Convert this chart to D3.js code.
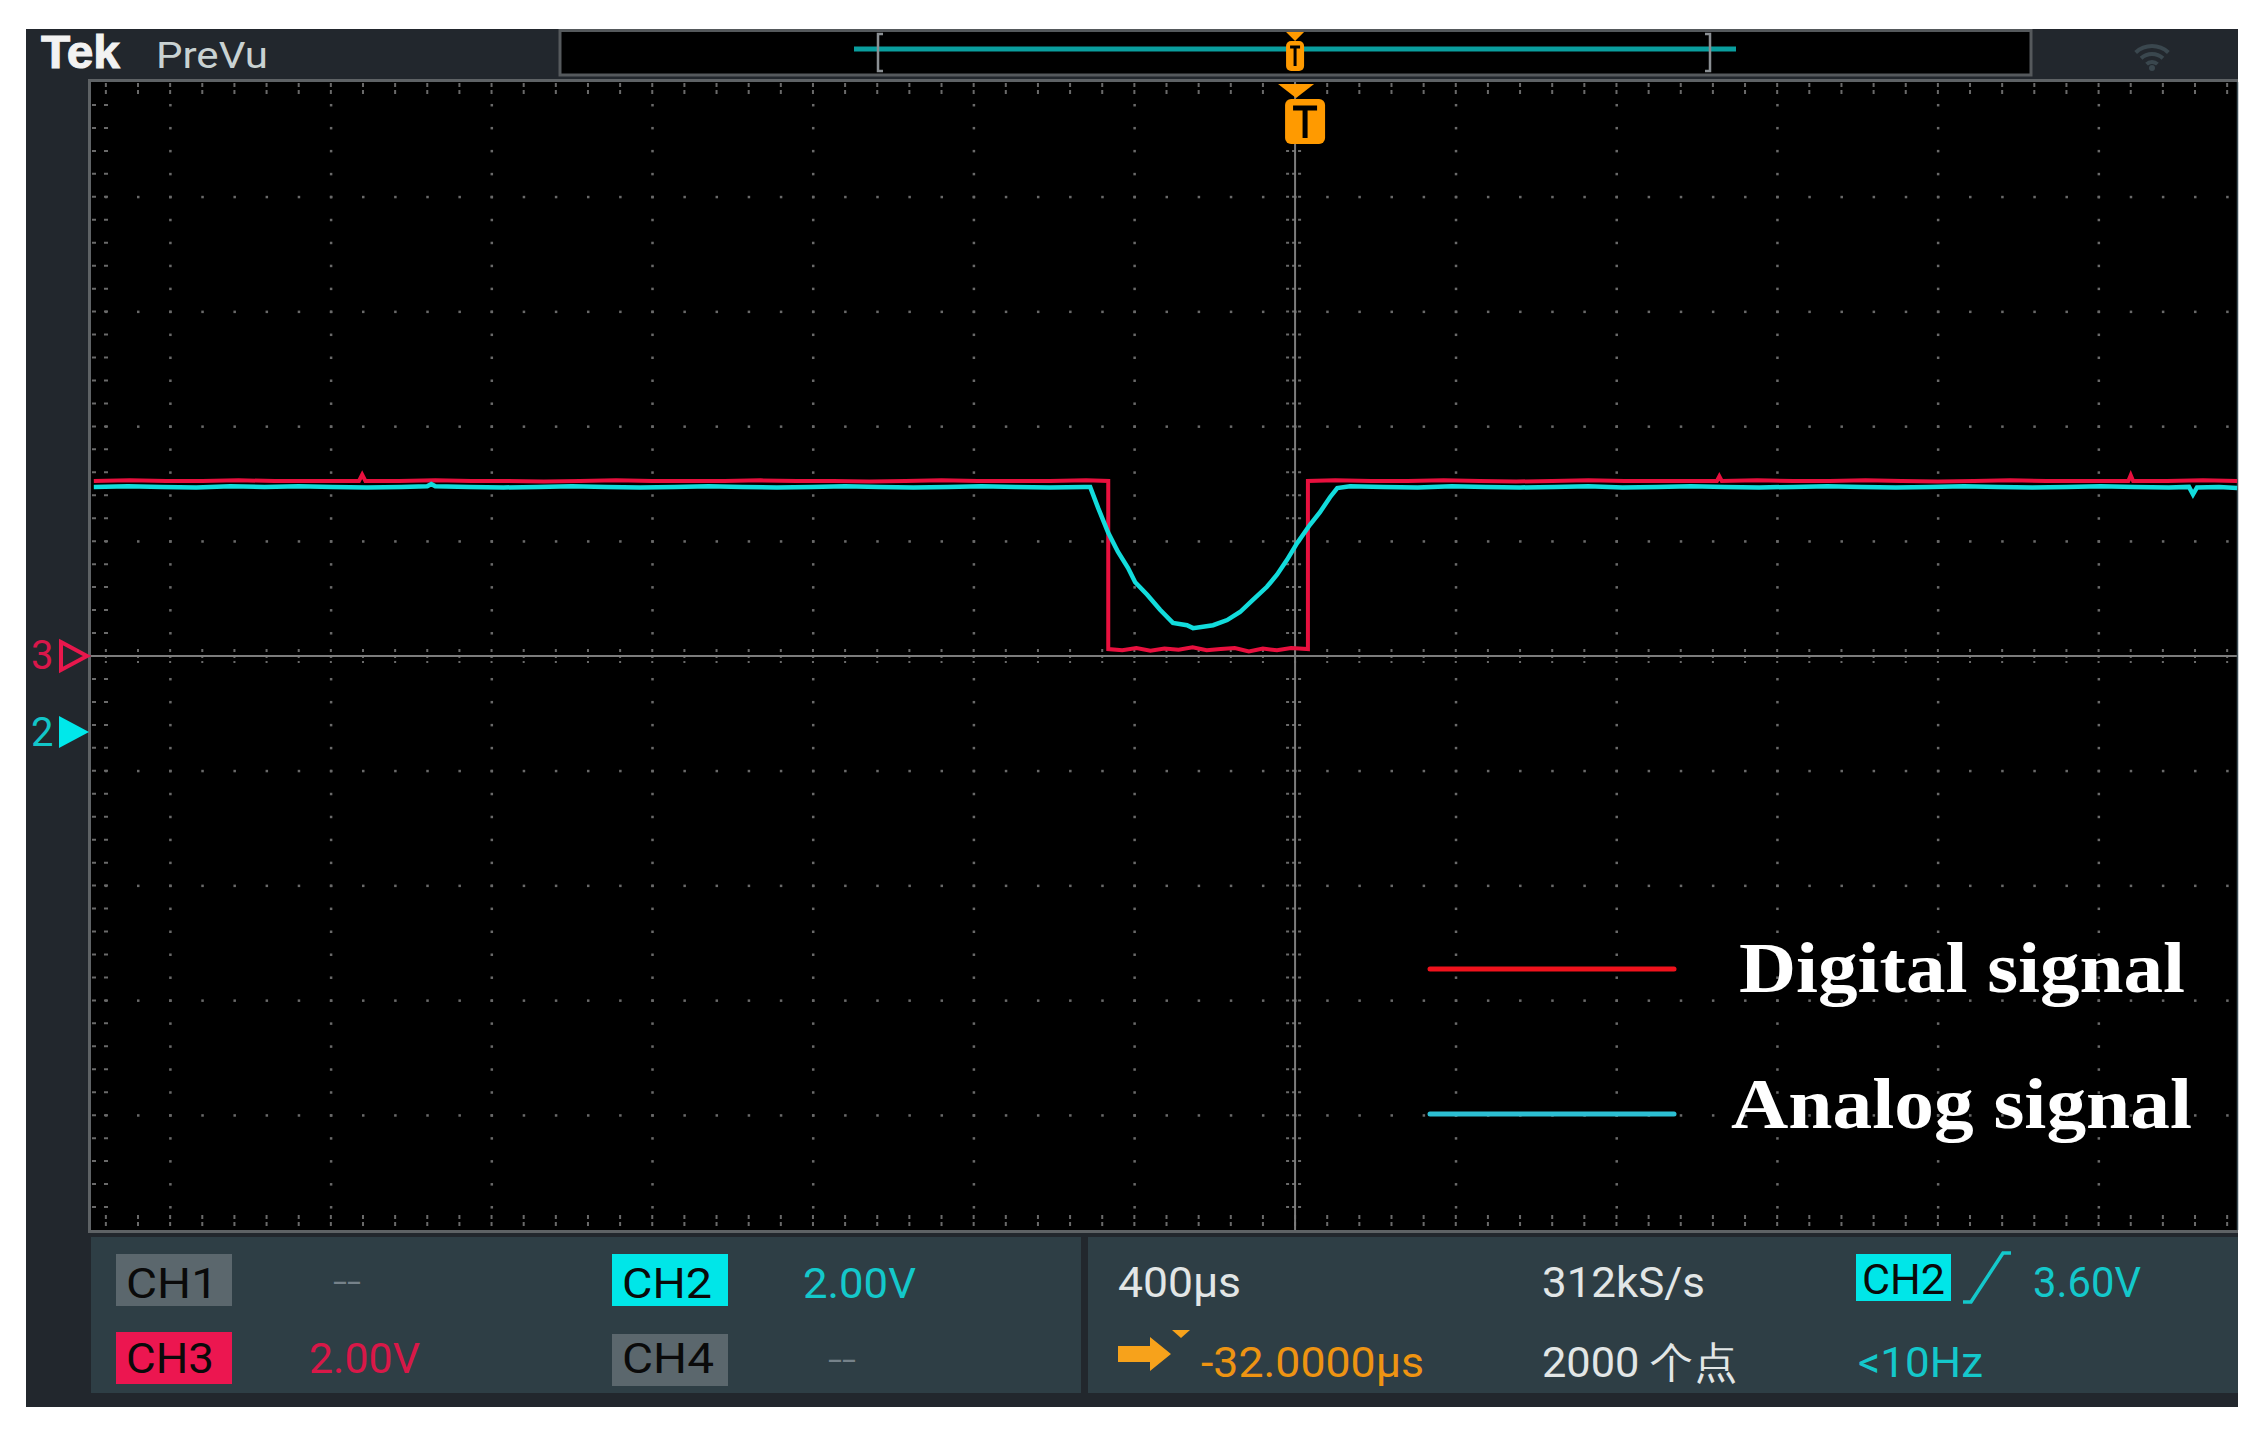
<!DOCTYPE html>
<html><head><meta charset="utf-8">
<script src="https://cdn.jsdelivr.net/npm/d3@7"></script>
<style>body{margin:0;background:#fff}svg{display:block}</style>
</head><body><svg id="c" width="2264" height="1433"></svg>
<script>
// ---------------- data ----------------
// analog signal (CH2), time in µs relative to centre line, volts
const analogTimes = [-2990,-2905,-2820,-2735,-2650,-2565,-2480,-2395,-2310,-2225,-2160,-2150,-2140,-2055,-1970,-1885,-1800,-1715,-1630,-1545,-1460,-1375,-1290,-1205,-1120,-1035,-950,-865,-780,-695,-610,-525,
  -510,-490,-465,-441,-416,-398,-368,-336,-304,-269,-254,-204,-169,-137,-105,-70,-45,-20,5,37,62,87,105,137,
  220,305,390,475,560,645,730,815,900,985,1070,1155,1240,1325,1410,1495,1580,1665,1750,1835,1920,2005,2090,2175,2225,2235,2245,2300,2345];
const analogVolts = [4.27,4.28,4.27,4.26,4.28,4.27,4.28,4.27,4.26,4.27,4.28,4.32,4.28,4.27,4.26,4.27,4.28,4.27,4.26,4.27,4.28,4.27,4.26,4.27,4.28,4.27,4.26,4.27,4.28,4.27,4.26,4.27,
  4.27,3.90,3.47,3.14,2.86,2.61,2.39,2.13,1.90,1.86,1.81,1.86,1.95,2.09,2.30,2.53,2.74,3.00,3.29,3.61,3.83,4.09,4.25,4.28,
  4.27,4.26,4.28,4.27,4.26,4.27,4.28,4.26,4.27,4.28,4.27,4.26,4.27,4.28,4.27,4.26,4.27,4.28,4.27,4.26,4.27,4.28,4.27,4.26,4.27,4.14,4.26,4.27,4.25];
// digital signal (CH3)
const digitalTimes = [-2990,-2900,-2810,-2720,-2630,-2540,-2450,-2330,-2322,-2314,-2230,-2140,-2050,-1960,-1870,-1780,-1690,-1600,-1510,-1420,-1330,-1240,-1150,-1060,-970,-880,-790,-700,-610,-520,-465,
  -465,-430,-395,-360,-325,-290,-255,-220,-185,-150,-115,-80,-45,-10,32,
  32,100,190,280,370,460,550,640,730,820,910,1000,1050,1056,1062,1150,1240,1330,1420,1510,1600,1690,1780,1870,1960,2074,2080,2086,2170,2260,2345];
const digitalVolts = [3.05,3.06,3.05,3.05,3.06,3.05,3.05,3.05,3.16,3.05,3.05,3.06,3.05,3.05,3.04,3.05,3.06,3.05,3.05,3.05,3.06,3.05,3.05,3.04,3.05,3.06,3.05,3.05,3.05,3.06,3.05,
  0.12,0.10,0.14,0.09,0.13,0.11,0.15,0.10,0.12,0.14,0.08,0.13,0.10,0.14,0.12,
  3.05,3.06,3.05,3.05,3.06,3.05,3.04,3.05,3.06,3.05,3.05,3.05,3.05,3.13,3.05,3.06,3.05,3.05,3.06,3.05,3.04,3.05,3.06,3.05,3.05,3.05,3.15,3.05,3.05,3.06,3.05];
const timePerDivUs = 400;
const voltsPerDiv = 2;
const triggerTimeUs = 0;
const legendLabels = ["Digital signal", "Analog signal"];
const chanLabels = ["CH1", "CH2", "CH3", "CH4"];
const chanScales = ["--", "2.00V", "2.00V", "--"];
const horizLabels = ["400µs", "312kS/s", "3.60V", "-32.0000µs", "2000 个点", "<10Hz"];

// ---------------- setup ----------------
const svg = d3.select("#c");
const W = 2264, H = 1433;
const G = {l: 91, r: 2238, t: 82, b: 1230};
const x = d3.scaleLinear().domain([-2997, 2347]).range([G.l, G.r]);
const yDiv = d3.scaleLinear().domain([-5, 5]).range([G.b, G.t]);
const ch3Offset = 0, ch2Offset = -0.662;

svg.append("rect").attr("width", W).attr("height", H).attr("fill", "#fff");
svg.append("rect").attr("x", 26).attr("y", 29).attr("width", 2212).attr("height", 1378).attr("fill", "#22272d");

// top bar
const UI = "'Liberation Sans Narrow','Roboto','Liberation Sans',sans-serif";
svg.append("text").attr("x", 41).attr("y", 68).text("Tek")
  .attr("font-family", "'Liberation Sans',Arial,sans-serif").attr("font-weight", "bold")
  .attr("font-size", 46).attr("fill", "#f2f2f2").attr("stroke", "#f2f2f2").attr("stroke-width", 1)
  .attr("textLength", 79).attr("lengthAdjust", "spacingAndGlyphs");
svg.append("text").attr("x", 156).attr("y", 68).text("PreVu")
  .attr("font-family", UI).attr("font-size", 37).attr("fill", "#c9d2d2")
  .attr("textLength", 112).attr("lengthAdjust", "spacingAndGlyphs");

svg.append("rect").attr("x", 560).attr("y", 30.5).attr("width", 1471).attr("height", 44.5)
  .attr("fill", "#000").attr("stroke", "#55595c").attr("stroke-width", 3);
// preview record line and brackets
svg.append("line").attr("x1", 854).attr("x2", 1736).attr("y1", 49).attr("y2", 49)
  .attr("stroke", "#0a9e9e").attr("stroke-width", 5);
[[878, 1], [1710, -1]].forEach(([bx, d]) => {
  svg.append("path").attr("d", `M${bx + 5 * d},34 L${bx},34 L${bx},71 L${bx + 5 * d},71`)
    .attr("fill", "none").attr("stroke", "#8a8f93").attr("stroke-width", 2.5);
});
// small trigger marker in preview
const tx = x(triggerTimeUs);
svg.append("path").attr("d", `M${tx - 9},32 L${tx + 9},32 L${tx},41 Z`).attr("fill", "#ff9a00");
svg.append("rect").attr("x", tx - 9).attr("y", 41).attr("width", 18).attr("height", 30).attr("rx", 5).attr("fill", "#ff9a00");
svg.append("path").attr("d", `M${tx - 5},47 L${tx + 5},47 M${tx},47 L${tx},66`).attr("stroke", "#000").attr("stroke-width", 3);

// wifi icon
const wcx = 2152, wcy = 70;
[26, 18, 10].forEach(r => {
  svg.append("path").attr("transform", `translate(${wcx},${wcy})`)
    .attr("d", d3.arc()({innerRadius: r - 4, outerRadius: r, startAngle: -0.75, endAngle: 0.75}))
    .attr("fill", "#3a474e");
});
svg.append("circle").attr("cx", wcx).attr("cy", wcy - 2).attr("r", 3).attr("fill", "#3a474e");

// graticule
svg.append("rect").attr("x", G.l).attr("y", G.t).attr("width", G.r - G.l).attr("height", G.b - G.t).attr("fill", "#000");
const gridC = "#6a6a6a";
const majorT = d3.range(-2800, 2347, timePerDivUs).filter(t => t !== 0);
const minorT = d3.range(-2960, 2347, timePerDivUs / 5);
const majorD = [-4, -3, -2, -1, 1, 2, 3, 4];
const minorD = d3.range(-24, 25).map(k => k / 5);
const grid = svg.append("g");
majorT.forEach(t => minorD.forEach(d => {
  grid.append("rect").attr("x", x(t) - 1).attr("y", yDiv(d) - 1).attr("width", 2.5).attr("height", 2.5).attr("fill", gridC);
}));
majorD.forEach(d => minorT.forEach(t => {
  grid.append("rect").attr("x", x(t) - 1).attr("y", yDiv(d) - 1).attr("width", 2.5).attr("height", 2.5).attr("fill", gridC);
}));
// edge ticks
minorT.forEach(t => {
  grid.append("line").attr("x1", x(t)).attr("x2", x(t)).attr("y1", G.t + 1).attr("y2", G.t + 15)
    .attr("stroke", gridC).attr("stroke-width", 2).attr("stroke-dasharray", "4,3");
  grid.append("line").attr("x1", x(t)).attr("x2", x(t)).attr("y1", G.b - 15).attr("y2", G.b - 1)
    .attr("stroke", gridC).attr("stroke-width", 2).attr("stroke-dasharray", "4,3");
  grid.append("line").attr("x1", x(t)).attr("x2", x(t)).attr("y1", yDiv(0) - 7).attr("y2", yDiv(0) + 7)
    .attr("stroke", gridC).attr("stroke-width", 2).attr("stroke-dasharray", "3,3");
});
minorD.forEach(d => {
  grid.append("line").attr("x1", G.l + 1).attr("x2", G.l + 20).attr("y1", yDiv(d)).attr("y2", yDiv(d))
    .attr("stroke", gridC).attr("stroke-width", 2).attr("stroke-dasharray", "4,8");
  grid.append("line").attr("x1", x(0) - 9).attr("x2", x(0) + 9).attr("y1", yDiv(d)).attr("y2", yDiv(d))
    .attr("stroke", gridC).attr("stroke-width", 2).attr("stroke-dasharray", "3,3");
});
// centre lines
grid.append("line").attr("x1", x(0)).attr("x2", x(0)).attr("y1", G.t).attr("y2", G.b).attr("stroke", "#7c7c7c").attr("stroke-width", 2);
grid.append("line").attr("x1", G.l).attr("x2", G.r).attr("y1", yDiv(0)).attr("y2", yDiv(0)).attr("stroke", "#7c7c7c").attr("stroke-width", 2);
// border
svg.append("line").attr("x1", G.l - 2).attr("x2", G.r).attr("y1", G.t - 1.5).attr("y2", G.t - 1.5).attr("stroke", "#5e6265").attr("stroke-width", 3);
svg.append("line").attr("x1", G.l - 1.5).attr("x2", G.l - 1.5).attr("y1", G.t - 3).attr("y2", G.b + 3).attr("stroke", "#5e6265").attr("stroke-width", 3);
svg.append("line").attr("x1", G.l - 2).attr("x2", G.r).attr("y1", G.b + 1.5).attr("y2", G.b + 1.5).attr("stroke", "#5e6265").attr("stroke-width", 3);
svg.append("line").attr("x1", G.r - 0.5).attr("x2", G.r - 0.5).attr("y1", G.t).attr("y2", G.b).attr("stroke", "#3d4d55").attr("stroke-width", 1.5);

// traces
const digital = digitalTimes.map((t, i) => [t, digitalVolts[i]]);
const analog = analogTimes.map((t, i) => [t, analogVolts[i]]);
const lineD = d3.line().x(d => x(d[0])).y(d => yDiv(ch3Offset + d[1] / voltsPerDiv));
const lineA = d3.line().x(d => x(d[0])).y(d => yDiv(ch2Offset + d[1] / voltsPerDiv));
svg.append("path").attr("d", lineD(digital)).attr("fill", "none").attr("stroke", "#e8103e").attr("stroke-width", 4);
svg.append("path").attr("d", lineA(analog)).attr("fill", "none").attr("stroke", "#12dcdc").attr("stroke-width", 4.5);

// big trigger marker
svg.append("path").attr("d", `M${tx - 17},84 L${tx + 19},84 L${tx + 1},98 Z`).attr("fill", "#ff9a00");
svg.append("rect").attr("x", tx - 10).attr("y", 99).attr("width", 40).attr("height", 45).attr("rx", 6).attr("fill", "#ff9a00");
svg.append("path").attr("d", `M${tx - 2},108 L${tx + 22},108 M${tx + 10},108 L${tx + 10},138`).attr("stroke", "#000").attr("stroke-width", 5);

// channel markers
svg.append("text").attr("x", 31).attr("y", 669).text("3").attr("font-family", UI).attr("font-size", 40).attr("fill", "#d8174a");
svg.append("path").attr("d", `M61,${yDiv(ch3Offset) - 14} L87,${yDiv(ch3Offset)} L61,${yDiv(ch3Offset) + 14} Z`)
  .attr("fill", "none").attr("stroke", "#e8174c").attr("stroke-width", 4);
svg.append("text").attr("x", 31).attr("y", 746).text("2").attr("font-family", UI).attr("font-size", 40).attr("fill", "#12c6c9");
svg.append("path").attr("d", `M59,${yDiv(ch2Offset) - 16} L89,${yDiv(ch2Offset)} L59,${yDiv(ch2Offset) + 16} Z`).attr("fill", "#00e8ea");

// legend
const legColors = ["#f0121c", "#2cbfd3"];
const legY = [969, 1114];
const legTextX = [1739, 1731];
const legTextY = [992, 1128];
const legW = [446, 461];
legendLabels.forEach((lab, i) => {
  svg.append("line").attr("x1", 1430).attr("x2", 1674).attr("y1", legY[i]).attr("y2", legY[i])
    .attr("stroke", legColors[i]).attr("stroke-width", 5).attr("stroke-linecap", "round");
  svg.append("text").attr("x", legTextX[i]).attr("y", legTextY[i]).text(lab)
    .attr("font-family", "'Liberation Serif','Times New Roman',serif").attr("font-weight", "bold")
    .attr("font-size", 72).attr("fill", "#fff")
    .attr("textLength", legW[i]).attr("lengthAdjust", "spacingAndGlyphs");
});

// bottom panels
svg.append("rect").attr("x", 91).attr("y", 1237).attr("width", 990).attr("height", 156).attr("fill", "#2e3e45");
svg.append("rect").attr("x", 1088).attr("y", 1237).attr("width", 1150).attr("height", 156).attr("fill", "#2e3e45");

function label(txt, x0, y0, w, color, size) {
  svg.append("text").attr("x", x0).attr("y", y0).text(txt).attr("font-family", UI)
    .attr("font-size", size || 42).attr("fill", color)
    .attr("textLength", w).attr("lengthAdjust", "spacingAndGlyphs");
}
const boxes = [
  {x: 116, y: 1254, fill: "#5b676d", tx: 126, ty: 1298, tw: 92},
  {x: 612, y: 1254, fill: "#00e6e8", tx: 622, ty: 1298, tw: 90},
  {x: 116, y: 1332, fill: "#ec1650", tx: 126, ty: 1373, tw: 88},
  {x: 612, y: 1334, fill: "#5b676d", tx: 622, ty: 1373, tw: 92}
];
boxes.forEach((b, i) => {
  svg.append("rect").attr("x", b.x).attr("y", b.y).attr("width", 116).attr("height", 52).attr("fill", b.fill);
  label(chanLabels[i], b.tx, b.ty, b.tw, "#0a0a0a");
});
label(chanScales[0], 333, 1292, 28, "#76828a", 30);
label(chanScales[1], 803, 1298, 113, "#14c8cb");
label(chanScales[2], 309, 1373, 111, "#d81848");
label(chanScales[3], 828, 1370, 28, "#76828a", 30);

label(horizLabels[0], 1118, 1297, 123, "#e2e6e6");
label(horizLabels[1], 1542, 1297, 163, "#e2e6e6");
svg.append("rect").attr("x", 1856).attr("y", 1254).attr("width", 95).attr("height", 47).attr("fill", "#00e6e8");
label("CH2", 1862, 1294, 83, "#0a0a0a");
svg.append("path").attr("d", "M1963,1302 L1971,1302 L2003,1253 L2011,1253").attr("fill", "none").attr("stroke", "#14c8cb").attr("stroke-width", 3.5);
label(horizLabels[2], 2033, 1297, 108, "#14c8cb");
// orange position arrow
svg.append("path").attr("d", "M1118,1346 L1150,1346 L1150,1337 L1171,1354 L1150,1371 L1150,1362 L1118,1362 Z").attr("fill", "#f7a21b");
svg.append("path").attr("d", "M1172,1330 L1190,1330 L1181,1338 Z").attr("fill", "#f7a21b");
label(horizLabels[3], 1201, 1377, 223, "#ee9412");
label(horizLabels[4], 1542, 1377, 195, "#e2e6e6");
label(horizLabels[5], 1858, 1377, 125, "#14c8cb");
</script></body></html>
